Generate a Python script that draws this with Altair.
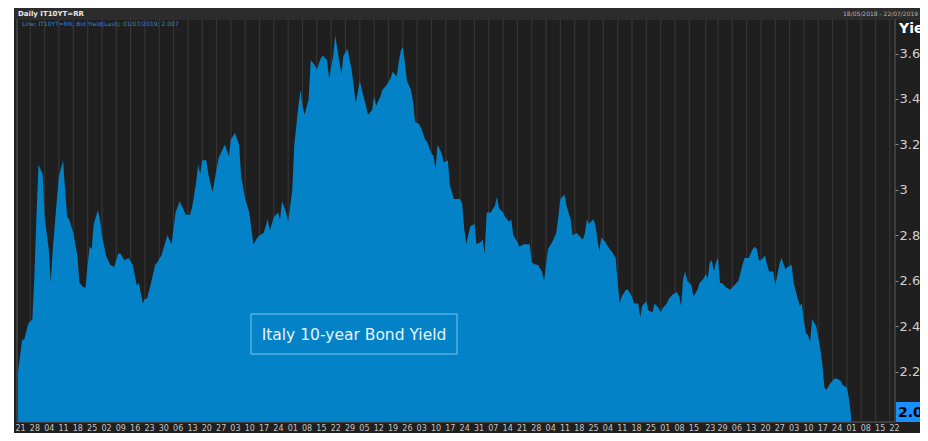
import altair as alt
import pandas as pd

W, H = 878, 403

# ---- Italy 10-year bond yield, per month: day-of-month + yield ----
MAY18_D = [20, 22, 23, 25, 27, 28, 29, 30]
MAY18_Y = [2.20, 2.34, 2.34, 2.41, 2.43, 2.62, 2.88, 3.11]
JUN18_D = [1, 2, 4, 5, 6, 8, 9, 11, 12, 13, 14, 16, 18, 19, 21, 22, 23, 24, 25, 26, 28, 29, 30]
JUN18_Y = [3.07, 2.88, 2.74, 2.59, 2.74, 2.96, 3.06, 3.13, 3.00, 2.88, 2.87, 2.81, 2.71, 2.59, 2.57, 2.57, 2.67, 2.75, 2.74, 2.85, 2.91, 2.87, 2.80]
JUL18_D = [2, 4, 6, 8, 9, 11, 13, 15, 17, 18, 20, 21, 22, 24, 26, 27, 29, 30]
JUL18_Y = [2.71, 2.67, 2.66, 2.72, 2.72, 2.69, 2.70, 2.67, 2.58, 2.59, 2.50, 2.52, 2.52, 2.59, 2.67, 2.68, 2.71, 2.74]
AUG18_D = [1, 3, 5, 7, 8, 10, 12, 13, 15, 16, 17, 18, 20, 21, 23, 25, 26, 28, 29, 31]
AUG18_Y = [2.80, 2.76, 2.90, 2.95, 2.93, 2.89, 2.89, 2.92, 3.03, 3.11, 3.07, 3.13, 3.13, 3.07, 2.99, 3.09, 3.14, 3.18, 3.20, 3.15]
SEP18_D = [1, 3, 5, 6, 8, 10, 11, 12, 14, 15, 17, 19, 20, 22, 24, 25, 26, 28, 29]
SEP18_Y = [3.22, 3.25, 3.20, 3.06, 2.96, 2.90, 2.83, 2.76, 2.79, 2.80, 2.81, 2.87, 2.82, 2.88, 2.90, 2.87, 2.95, 2.90, 2.86]
OCT18_D = [1, 2, 4, 5, 6, 7, 9, 10, 12, 13, 15, 16, 18, 19, 21, 22, 23, 25, 26, 28, 30, 31]
OCT18_Y = [3.00, 3.20, 3.37, 3.44, 3.37, 3.33, 3.40, 3.57, 3.55, 3.53, 3.58, 3.59, 3.57, 3.49, 3.59, 3.68, 3.62, 3.51, 3.59, 3.62, 3.53, 3.46]
NOV18_D = [1, 3, 4, 6, 7, 9, 10, 11, 13, 14, 16, 18, 19, 21, 22, 23, 24, 25, 26, 28, 29, 30]
NOV18_Y = [3.38, 3.48, 3.44, 3.37, 3.33, 3.35, 3.41, 3.37, 3.41, 3.44, 3.46, 3.49, 3.52, 3.50, 3.56, 3.61, 3.63, 3.56, 3.48, 3.44, 3.39, 3.30]
DEC18_D = [2, 3, 5, 6, 8, 9, 10, 11, 13, 14, 16, 17, 19, 22, 23, 24, 25, 27, 29, 30]
DEC18_Y = [3.29, 3.27, 3.22, 3.21, 3.16, 3.15, 3.09, 3.20, 3.16, 3.12, 3.13, 3.02, 2.96, 2.96, 2.94, 2.83, 2.76, 2.84, 2.85, 2.76]
JAN19_D = [1, 2, 3, 4, 6, 8, 9, 10, 12, 13, 15, 16, 17, 19, 20, 22, 25, 26, 28, 29, 31]
JAN19_Y = [2.77, 2.78, 2.72, 2.90, 2.90, 2.93, 2.97, 2.92, 2.90, 2.88, 2.86, 2.87, 2.80, 2.77, 2.75, 2.76, 2.76, 2.68, 2.67, 2.67, 2.64]
FEB19_D = [1, 3, 5, 7, 8, 9, 11, 12, 14, 15, 17, 18, 20, 21, 22, 23, 25, 26, 27, 28]
FEB19_Y = [2.60, 2.74, 2.77, 2.81, 2.88, 2.96, 2.98, 2.93, 2.87, 2.80, 2.81, 2.80, 2.78, 2.81, 2.87, 2.85, 2.87, 2.85, 2.79, 2.73]
MAR19_D = [1, 3, 5, 6, 8, 9, 10, 11, 13, 14, 16, 17, 19, 20, 21, 23, 24, 26, 27, 29, 30, 31]
MAR19_Y = [2.79, 2.77, 2.74, 2.73, 2.70, 2.59, 2.50, 2.53, 2.56, 2.56, 2.53, 2.50, 2.50, 2.44, 2.49, 2.51, 2.47, 2.46, 2.50, 2.48, 2.46, 2.48]
APR19_D = [2, 3, 5, 7, 8, 9, 10, 11, 12, 14, 15, 17, 18, 20, 21, 22, 23, 24, 25, 26, 27, 28, 29]
APR19_Y = [2.50, 2.52, 2.54, 2.55, 2.53, 2.49, 2.61, 2.64, 2.60, 2.58, 2.53, 2.56, 2.59, 2.61, 2.63, 2.61, 2.68, 2.69, 2.64, 2.68, 2.70, 2.59, 2.59]
MAY19_D = [1, 3, 5, 7, 9, 10, 12, 14, 15, 16, 17, 18, 20, 21, 22, 24, 25, 27, 28, 30, 31]
MAY19_Y = [2.57, 2.56, 2.58, 2.60, 2.67, 2.70, 2.70, 2.74, 2.75, 2.74, 2.69, 2.69, 2.71, 2.67, 2.64, 2.64, 2.58, 2.67, 2.70, 2.65, 2.66]
JUN19_D = [2, 3, 5, 6, 7, 8, 9, 10, 11, 12, 14, 15, 16, 17, 18, 19, 21, 23, 24, 26, 27, 29, 30]
JUN19_Y = [2.67, 2.59, 2.52, 2.49, 2.50, 2.42, 2.37, 2.36, 2.33, 2.43, 2.40, 2.35, 2.30, 2.23, 2.13, 2.12, 2.15, 2.17, 2.17, 2.16, 2.14, 2.13, 2.08]
JUL19_D = [1]
JUL19_Y = [2.007]

MONTHS = [
    ("2018-05", MAY18_D, MAY18_Y), ("2018-06", JUN18_D, JUN18_Y), ("2018-07", JUL18_D, JUL18_Y),
    ("2018-08", AUG18_D, AUG18_Y), ("2018-09", SEP18_D, SEP18_Y), ("2018-10", OCT18_D, OCT18_Y),
    ("2018-11", NOV18_D, NOV18_Y), ("2018-12", DEC18_D, DEC18_Y), ("2019-01", JAN19_D, JAN19_Y),
    ("2019-02", FEB19_D, FEB19_Y), ("2019-03", MAR19_D, MAR19_Y), ("2019-04", APR19_D, APR19_Y),
    ("2019-05", MAY19_D, MAY19_Y), ("2019-06", JUN19_D, JUN19_Y), ("2019-07", JUL19_D, JUL19_Y),
]

# weekly tick labels (first trading day of each week)
TICK_DATES = [
    "2018-05-21", "2018-05-28", "2018-06-04", "2018-06-11", "2018-06-18", "2018-06-25",
    "2018-07-02", "2018-07-09", "2018-07-16", "2018-07-23", "2018-07-30", "2018-08-06",
    "2018-08-13", "2018-08-20", "2018-08-27", "2018-09-03", "2018-09-10", "2018-09-17",
    "2018-09-24", "2018-10-01", "2018-10-08", "2018-10-15", "2018-10-22", "2018-10-29",
    "2018-11-05", "2018-11-12", "2018-11-19", "2018-11-26", "2018-12-03", "2018-12-10",
    "2018-12-17", "2018-12-24", "2018-12-31", "2019-01-07", "2019-01-14", "2019-01-21",
    "2019-01-28", "2019-02-04", "2019-02-11", "2019-02-18", "2019-02-25", "2019-03-04",
    "2019-03-11", "2019-03-18", "2019-03-25", "2019-04-01", "2019-04-08", "2019-04-15",
    "2019-04-23", "2019-04-29", "2019-05-06", "2019-05-13", "2019-05-20", "2019-05-27",
    "2019-06-03", "2019-06-10", "2019-06-17", "2019-06-24", "2019-07-01", "2019-07-08",
    "2019-07-15", "2019-07-22",
]
Y_TICKS = [2.2, 2.4, 2.6, 2.8, 3.0, 3.2, 3.4, 3.6]

rows = []
for ym, days, vals in MONTHS:
    assert len(days) == len(vals), ym
    for d, v in zip(days, vals):
        rows.append({"date": f"{ym}-{d:02d}", "yield": v})
df = pd.DataFrame(rows)


def ms(s):
    return int(pd.Timestamp(s, tz="UTC").value // 10**6)


tick_ms = [ms(s) for s in TICK_DATES]
grid_df = pd.DataFrame({"date": [(pd.Timestamp(s) - pd.Timedelta(days=2)).strftime("%Y-%m-%d") for s in TICK_DATES]})
one = pd.DataFrame({"k": [0]})

FONT = "DejaVu Sans"

x_scale = alt.Scale(type="utc", domain=[ms("2018-05-19T12:00"), ms("2019-07-22T12:00")])
x_axis = alt.Axis(values=tick_ms, labelExpr="utcFormat(datum.value, '%d')", title=None,
                  ticks=False, domain=False, grid=False, labelFontSize=8, labelColor="#c4c4c4",
                  labelPadding=2, labelOverlap=False, labelFlush=False, labelBound=False,
                  zindex=1, labelFont=FONT)
y_scale = alt.Scale(domain=[1.978, 3.752], zero=False, nice=False)
y_axis = alt.Axis(orient="right", values=Y_TICKS, format="~g", title=None, grid=False,
                  domain=False, tickSize=3, tickColor="#8a8a8a", labelPadding=1,
                  labelFontSize=13, labelColor="#d0d0d0", zindex=1, labelFont=FONT)

BG = "#1f1f1f"

bg = alt.Chart(one).mark_rect(color=BG).encode(
    x=alt.value(-3), x2=alt.value(W + 40), y=alt.value(-11), y2=alt.value(H + 30))
header = alt.Chart(one).mark_rect(color="#2c2c2c").encode(
    x=alt.value(-3), x2=alt.value(W + 40), y=alt.value(-11), y2=alt.value(-1))

grid = alt.Chart(grid_df).mark_rule(color="#353535", strokeWidth=1.2, clip=True).encode(
    x=alt.X("date:T", scale=x_scale, axis=x_axis), y=alt.value(0), y2=alt.value(H))

area = alt.Chart(df).mark_area(color="#0382c8", clip=True, interpolate="linear").encode(
    x=alt.X("date:T", scale=x_scale, axis=x_axis),
    y=alt.Y("yield:Q", scale=y_scale, axis=y_axis),
    y2=alt.value(H),
)

border_col = "#5c5c5c"
left_b = alt.Chart(one).mark_rule(color=border_col).encode(x=alt.value(0), y=alt.value(0), y2=alt.value(H))
right_b = alt.Chart(one).mark_rule(color=border_col).encode(x=alt.value(W), y=alt.value(0), y2=alt.value(H))
bottom_b = alt.Chart(one).mark_rule(color=border_col).encode(x=alt.value(0), x2=alt.value(W), y=alt.value(H))
top_b = alt.Chart(one).mark_rule(color="#3a3a3a").encode(x=alt.value(-3), x2=alt.value(W + 40), y=alt.value(0))

ann_box = alt.Chart(one).mark_rect(fillOpacity=0, stroke="#7cc6ee", strokeWidth=1).encode(
    x=alt.value(234), x2=alt.value(440), y=alt.value(295), y2=alt.value(335))
ann_text = alt.Chart(one).mark_text(text="Italy 10-year Bond Yield", font=FONT, fontSize=15.5,
                                    color="#e6f3fb", align="center", baseline="middle").encode(
    x=alt.value(337), y=alt.value(315.5))

hdr_left = alt.Chart(one).mark_text(text="Daily IT10YT=RR", font=FONT, fontSize=7, fontWeight="bold",
                                    color="#e8e8e8", align="left", baseline="middle").encode(
    x=alt.value(1), y=alt.value(-5.5))
hdr_right = alt.Chart(one).mark_text(text="18/05/2018 - 22/07/2019", font=FONT, fontSize=6,
                                     color="#b0b0b0", align="left", baseline="middle").encode(
    x=alt.value(826), y=alt.value(-5.5))
legend_txt = alt.Chart(one).mark_text(text="Line; IT10YT=RR; Bid Yield(Last); 01/07/2019; 2.007",
                                      font=FONT, fontSize=6, color="#2b86d9", align="left",
                                      baseline="middle").encode(x=alt.value(5), y=alt.value(5))

yield_title = alt.Chart(one).mark_text(text="Yield", font=FONT, fontSize=14, fontWeight="bold",
                                       color="#ffffff", align="left", baseline="middle").encode(
    x=alt.value(W + 4), y=alt.value(10))
val_box = alt.Chart(one).mark_rect(color="#1a8fff").encode(
    x=alt.value(W + 1), x2=alt.value(W + 40), y=alt.value(383), y2=alt.value(403))
val_text = alt.Chart(one).mark_text(text="2.007", font=FONT, fontSize=14, fontWeight="bold",
                                    color="#000000", align="left", baseline="middle").encode(
    x=alt.value(W + 3), y=alt.value(393.5))

chart = alt.layer(
    bg, header, grid, area, left_b, right_b, bottom_b, top_b,
    ann_box, ann_text, hdr_left, hdr_right, legend_txt, yield_title, val_box, val_text,
).properties(
    width=W, height=H,
    padding={"left": 9, "top": 11, "right": 25, "bottom": 11},
    autosize=alt.AutoSizeParams(type="none"),
).configure(background="white").configure_view(stroke=None)

chart.save("out.html", embed_options={"renderer": "svg", "actions": False})
